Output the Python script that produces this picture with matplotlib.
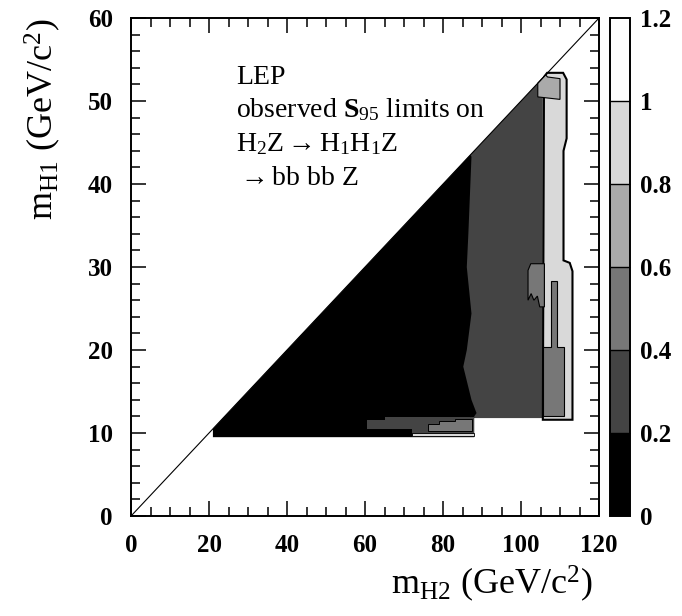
import numpy as np
import matplotlib
matplotlib.use("Agg")
import matplotlib.pyplot as plt
from matplotlib.colors import ListedColormap, BoundaryNorm
from matplotlib.cm import ScalarMappable
from matplotlib.ticker import MultipleLocator

plt.rcParams['font.family'] = ['Liberation Serif', 'DejaVu Serif']
plt.rcParams['mathtext.fontset'] = 'custom'
plt.rcParams['mathtext.rm'] = 'Liberation Serif'
plt.rcParams['mathtext.it'] = 'Liberation Serif:italic'
plt.rcParams['mathtext.bf'] = 'Liberation Serif:bold'

# S95 bands (colour scale)
levels = [0, 0.2, 0.4, 0.6, 0.8, 1.0, 1.2]
band_colors = ['#000000', '#444444', '#777777', '#aaaaaa', '#d9d9d9', '#ffffff']
level_labels = ['0', '0.2', '0.4', '0.6', '0.8', '1', '1.2']

# kinematic limit mH2 = 2 mH1
kin_x = [0, 120]
kin_y = [0, 60]

# regions of constant S95 band (mH2, mH1)
dark_x = [84, 105.6, 105.6, 84]
dark_y = [11.8, 11.8, 52.8, 42]
dark_s95 = 0.3

black_x = [21, 88, 88, 88.6, 87.3, 85.2, 86.1, 87.3, 86.1, 86.5, 87.3, 87.0, 21]
black_y = [9.5, 9.5, 12, 12.4, 14, 18, 20, 24.4, 30, 34, 43.3, 43.5, 10.5]
black_s95 = 0.1

strip_x = [105.6, 113.2, 113.2, 112.5, 110.9, 110.9, 111.7, 111.7, 110.8, 106.7, 105.9]
strip_y = [11.6, 11.6, 29.5, 30.5, 30.8, 44, 45.5, 52.6, 53.4, 53.4, 52.9]
strip_s95 = 0.9

top_x = [104.3, 110.0, 110.0, 106.8, 106.3, 104.3]
top_y = [50.5, 50.2, 52.7, 52.9, 53.15, 52.15]
top_s95 = 0.7

bump_x = [102.5, 106, 106, 104.8, 104.2, 103.3, 102.6, 101.8, 101.8]
bump_y = [30.4, 30.4, 25.2, 25.2, 26.5, 26.0, 26.8, 26.0, 29.6]
bump_s95 = 0.5

box_x = [105.7, 111.0, 111.0, 109.2, 109.2, 107.6, 107.6, 105.7]
box_y = [12.0, 12.0, 20.4, 20.4, 28.3, 28.3, 20.4, 20.4]
box_s95 = 0.5

low_dark_x = [60.4, 65, 65, 88, 88, 72, 72, 60.4]
low_dark_y = [11.55, 11.55, 11.9, 11.9, 10.0, 10.0, 10.45, 10.45]
low_dark_s95 = 0.3

low_mid_x = [76.2, 76.2, 79, 79, 83, 83, 87.5, 87.5]
low_mid_y = [10.3, 11.1, 11.1, 11.5, 11.5, 11.7, 11.7, 10.3]
low_mid_s95 = 0.5

low_light_x = [72, 88, 88, 72]
low_light_y = [9.65, 9.65, 10.0, 10.0]
low_light_s95 = 0.9

cmap = ListedColormap(band_colors)
norm = BoundaryNorm(levels, cmap.N)

fig = plt.figure(figsize=(6.82, 6.16), dpi=100)
ax = fig.add_axes([0.1921, 0.1623, 0.6862, 0.8084])
cax = fig.add_axes([0.8944, 0.1623, 0.0293, 0.8084])

# filled regions, painted in order; (x, y, s95, edge width)
regions = [
    (dark_x, dark_y, dark_s95, 0),
    (black_x, black_y, black_s95, 0),
    (strip_x, strip_y, strip_s95, 1.5),
    (top_x, top_y, top_s95, 0.8),
    (bump_x, bump_y, bump_s95, 0.8),
    (box_x, box_y, box_s95, 0.8),
    (low_dark_x, low_dark_y, low_dark_s95, 0),
    (low_mid_x, low_mid_y, low_mid_s95, 0.7),
    (low_light_x, low_light_y, low_light_s95, 0.6),
]
for xs, ys, s, lw in regions:
    ax.fill(xs, ys, facecolor=cmap(norm(s)), edgecolor='k' if lw else 'none',
            linewidth=lw, zorder=2)

ax.plot(kin_x, kin_y, color='k', lw=0.8, zorder=3)

ax.set_xlim(0, 120)
ax.set_ylim(0, 60)
ax.xaxis.set_major_locator(MultipleLocator(20))
ax.xaxis.set_minor_locator(MultipleLocator(5))
ax.yaxis.set_major_locator(MultipleLocator(10))
ax.yaxis.set_minor_locator(MultipleLocator(2))
ax.tick_params(which='both', direction='in', top=True, right=True, width=1.1)
ax.tick_params(which='major', length=11, labelsize=18, pad=13)
ax.tick_params(which='minor', length=6.5)
for lab in ax.get_xticklabels() + ax.get_yticklabels():
    lab.set_fontweight('bold')
for sp in ax.spines.values():
    sp.set_linewidth(1.4)

ax.set_xlabel(r'm$_{\mathrm{H2}}$ (GeV/c$^{2}$)', fontsize=26, loc='right')
ax.set_ylabel(r'm$_{\mathrm{H1}}$ (GeV/c$^{2}$)', fontsize=26, loc='top')
ax.xaxis.set_label_coords(0.987, -0.095)
ax.yaxis.set_label_coords(-0.145, 1.0)

note_lines = ['LEP',
              r'observed $\mathbf{S}_{95}$ limits on',
              r'H$_2$Z$\rightarrow$H$_1$H$_1$Z',
              r'$\rightarrow$bb bb Z']
for i, line in enumerate(note_lines):
    ax.text(27, 52.1 - 4.07 * i, line, fontsize=20, va='baseline', ha='left')

sm = ScalarMappable(norm=norm, cmap=cmap)
cb = fig.colorbar(sm, cax=cax, ticks=levels, drawedges=True)
cb.ax.set_yticklabels(level_labels)
cb.ax.tick_params(length=0, labelsize=18, pad=7)
for lab in cb.ax.get_yticklabels():
    lab.set_fontweight('bold')
cb.outline.set_linewidth(1.4)
cb.dividers.set_linewidth(1.0)

fig.savefig('out.png', dpi=100)
